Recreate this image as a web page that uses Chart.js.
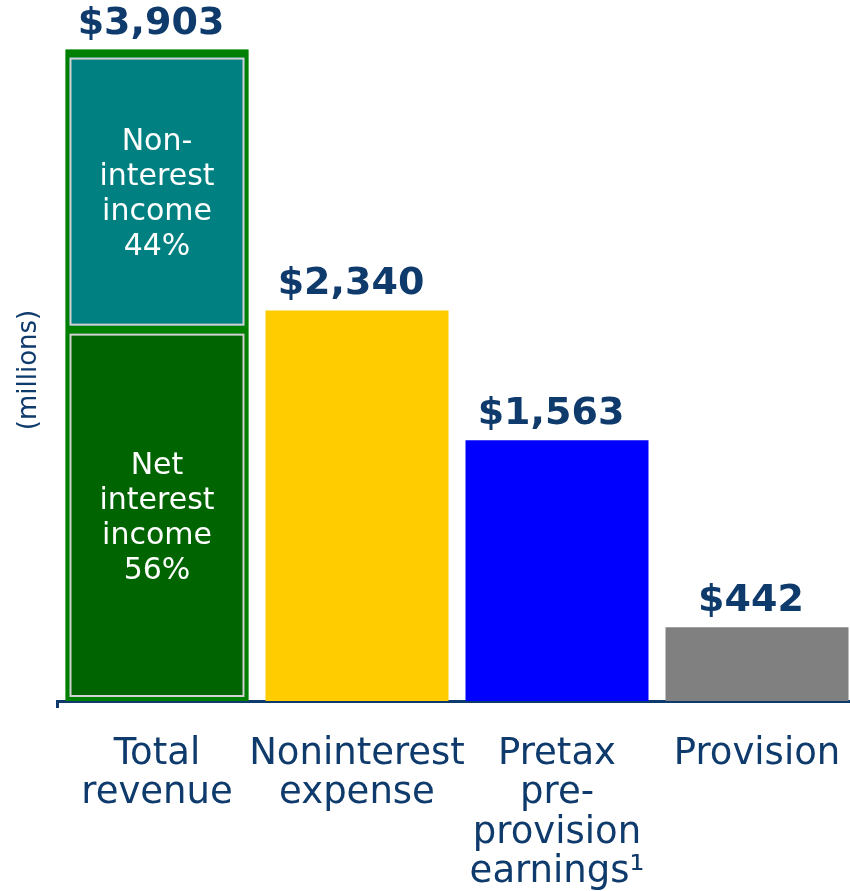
<!DOCTYPE html>
<html>
<head>
<meta charset="utf-8">
<script src="https://cdn.jsdelivr.net/npm/chart.js@4"></script>
<style>
  html, body { margin: 0; padding: 0; background: #fff; overflow: hidden; width: 850px; height: 891px; }
  canvas { display: block; }
</style>
</head>
<body>
<canvas id="c" width="860" height="891" style="width:860px;height:891px"></canvas>
<script>
// ---- data ----
const categories = [['Total', 'revenue'], ['Noninterest', 'expense'], ['Pretax', 'pre-', 'provision', 'earnings¹'], ['Provision']];
const totals = [3903, 2340, 1563, 442];
const totalLabels = ['$3,903', '$2,340', '$1,563', '$442'];
const netInterestIncome = [2225, null, null, null];   // lower segment of total revenue
const nonInterestIncome = [1678, null, null, null];   // upper segment of total revenue
const netInterestLabel = ['Net', 'interest', 'income', '56%'];
const nonInterestLabel = ['Non-', 'interest', 'income', '44%'];
const yTitle = '(millions)';

const NAVY = '#0e3a6c';
const FONT = '"DejaVu Sans", Verdana, sans-serif';

const overlay = {
  id: 'overlay',
  afterDatasetsDraw(chart) {
    const ctx = chart.ctx;
    // light inner frames + segment text
    [[1, netInterestLabel, 4], [2, nonInterestLabel, 8]].forEach(([di, lines, topB]) => {
      const meta = chart.getDatasetMeta(di);
      meta.data.forEach((el, i) => {
        const v = chart.data.datasets[di].data[i];
        if (v == null) return;
        const p = el.getProps(['x', 'y', 'base', 'width'], true);
        const l = p.x - p.width / 2 + 4, r = p.x + p.width / 2 - 4;
        const t = Math.min(p.y, p.base) + topB, b = Math.max(p.y, p.base) - 4;
        ctx.save();
        ctx.strokeStyle = '#d2d2d2';
        ctx.lineWidth = 2;
        ctx.strokeRect(l + 1, t + 1, r - l - 2, b - t - 2);
        ctx.fillStyle = '#ffffff';
        ctx.font = '30px ' + FONT;
        ctx.textAlign = 'center';
        ctx.textBaseline = 'middle';
        const lh = 35;
        const cy = (t + b) / 2;
        lines.forEach((s, k) => {
          ctx.fillText(s, p.x, cy + (k - (lines.length - 1) / 2) * lh + 3);
        });
        ctx.restore();
      });
    });
    // value labels
    const meta0 = chart.getDatasetMeta(0);
    meta0.data.forEach((el, i) => {
      const p = el.getProps(['x', 'y'], true);
      ctx.save();
      ctx.fillStyle = NAVY;
      ctx.font = 'bold 38px ' + FONT;
      ctx.textAlign = 'center';
      ctx.textBaseline = 'alphabetic';
      ctx.fillText(totalLabels[i], p.x - 6, p.y - 16);
      ctx.restore();
    });
  },
  afterDraw(chart) {
    const ctx = chart.ctx;
    ctx.save();
    ctx.translate(29, 370);
    ctx.rotate(-Math.PI / 2);
    ctx.fillStyle = NAVY;
    ctx.font = '26px ' + FONT;
    ctx.textAlign = 'center';
    ctx.textBaseline = 'middle';
    ctx.fillText(yTitle, 0, 0);
    ctx.restore();
  }
};

new Chart(document.getElementById('c'), {
  type: 'bar',
  data: {
    labels: categories,
    datasets: [
      {
        label: 'Total',
        data: totals,
        stack: 'total',
        grouped: false,
        order: 3,
        backgroundColor: ['#008000', '#FFCC00', '#0000FF', '#808080'],
        borderWidth: 0,
        barPercentage: 0.915,
        categoryPercentage: 1
      },
      {
        label: 'Net interest income',
        data: netInterestIncome,
        stack: 'rev',
        grouped: false,
        order: 1,
        backgroundColor: '#006400',
        borderColor: '#008000',
        borderWidth: { top: 4, left: 4, right: 4, bottom: 4 },
        borderSkipped: false,
        barPercentage: 0.915,
        categoryPercentage: 1
      },
      {
        label: 'Non-interest income',
        data: nonInterestIncome,
        stack: 'rev',
        grouped: false,
        order: 1,
        backgroundColor: '#008080',
        borderColor: '#008000',
        borderWidth: { top: 8, left: 4, right: 4, bottom: 4 },
        borderSkipped: false,
        barPercentage: 0.915,
        categoryPercentage: 1
      }
    ]
  },
  options: {
    responsive: false,
    animation: false,
    devicePixelRatio: 1,
    layout: { padding: { top: 0, right: 3, bottom: 0, left: 0 } },
    plugins: { legend: { display: false }, tooltip: { enabled: false } },
    scales: {
      x: {
        stacked: false,
        grid: {
          display: true,
          drawOnChartArea: false,
          drawTicks: true,
          tickLength: 7,
          lineWidth: 3,
          color: (c) => c.index === 0 ? NAVY : 'rgba(0,0,0,0)'
        },
        border: { display: true, color: NAVY, width: 3 },
        ticks: {
          autoSkip: false,
          maxRotation: 0,
          minRotation: 0,
          padding: 27,
          color: NAVY,
          font: { family: FONT, size: 37, lineHeight: 1.06 }
        },
        afterFit(scale) {
          scale.height = 190;
          scale.paddingLeft = 0;
          scale.paddingRight = 0;
        }
      },
      y: {
        stacked: true,
        min: 0,
        max: 4200,
        grid: { display: false },
        border: { display: false },
        ticks: { display: false },
        afterFit(scale) { scale.width = 57; }
      }
    }
  },
  plugins: [overlay]
});
</script>
</body>
</html>
